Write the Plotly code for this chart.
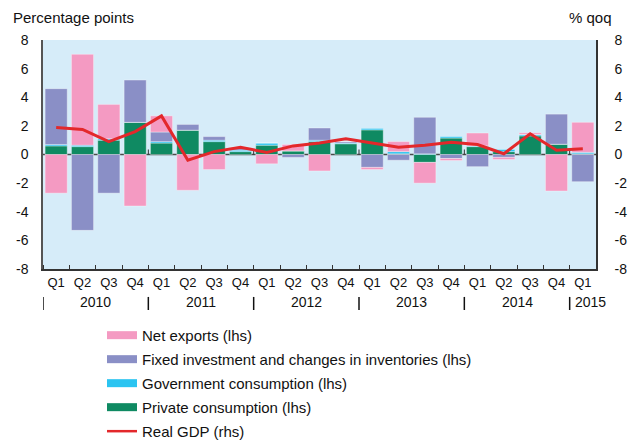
import plotly.graph_objects as go

quarters = ["Q1", "Q2", "Q3", "Q4"] * 5 + ["Q1"]
years = ["2010", "2011", "2012", "2013", "2014", "2015"]

private_consumption = [0.6, 0.55, 1.0, 2.25, 0.8, 1.7, 0.9, 0.2, 0.65, 0.25, 0.9, 0.75,
                       1.72, 0.05, -0.55, 1.15, 0.55, 0.2, 1.3, 0.72, 0.05]
government_consumption = [0.1, 0.1, 0.1, 0.0, 0.1, 0.0, 0.1, 0.1, 0.15, 0.0, 0.1, 0.05,
                          0.1, 0.15, 0.05, 0.1, 0.05, 0.15, 0.1, 0.0, 0.1]
fixed_investment = [3.9, -5.3, -2.7, 2.95, 0.67, 0.4, 0.25, 0.2, 0.0, -0.2, 0.85, 0.1,
                    -0.9, -0.4, 2.55, -0.28, -0.85, -0.2, 0.0, 2.1, -1.9]
net_exports = [-2.7, 6.35, 2.4, -3.6, 1.13, -2.5, -1.05, 0.0, -0.65, 0.45, -1.15, 0.0,
               -0.15, 0.7, -1.45, -0.14, 0.9, -0.15, 0.12, -2.55, 2.1]
real_gdp = [1.88, 1.75, 0.9, 1.6, 2.7, -0.4, 0.2, 0.5, 0.15, 0.6, 0.8, 1.1,
            0.8, 0.5, 0.65, 0.85, 0.7, 0.05, 1.45, 0.3, 0.4]

y_ticks = [-8, -6, -4, -2, 0, 2, 4, 6, 8]
y_ticktext = [str(v) for v in y_ticks]

C_PINK = "#F49AC2"
C_PURPLE = "#8A8FC6"
C_CYAN = "#2BC4F1"
C_GREEN = "#0F8A62"
C_RED = "#E3282B"
BG = "#D6ECF9"
FONT = "Liberation Sans"

x = list(range(len(quarters)))

fig = go.Figure()
bar_series = [
    ("Private consumption (lhs)", private_consumption, C_GREEN, 4),
    ("Government consumption (lhs)", government_consumption, C_CYAN, 3),
    ("Fixed investment and changes in inventories (lhs)", fixed_investment, C_PURPLE, 2),
    ("Net exports (lhs)", net_exports, C_PINK, 1),
]
for name, vals, col, rank in bar_series:
    fig.add_trace(go.Bar(x=x, y=vals, name=name,
                         marker=dict(color=col, line=dict(color="rgba(255,255,255,0.35)", width=1)),
                         showlegend=False, yaxis="y"))
fig.add_trace(go.Scatter(x=x, y=real_gdp, name="Real GDP (rhs)", mode="lines",
                         line=dict(color=C_RED, width=3), yaxis="y2", showlegend=False))

# legend entries
for name, vals, col, rank in bar_series:
    fig.add_trace(go.Scatter(x=[None], y=[None], mode="lines", name=name, legendrank=rank,
                             legendgroup=name, line=dict(color=col, width=8), yaxis="y"))
fig.add_trace(go.Scatter(x=[None], y=[None], mode="lines", name="Real GDP (rhs)", legendrank=5,
                         legendgroup="gdp", line=dict(color=C_RED, width=2.5), yaxis="y"))

shapes = []
shapes.append(dict(type="line", xref="paper", yref="y", x0=0, x1=1, y0=0, y1=0,
                   line=dict(color="#4a4a4a", width=1.5), layer="below"))
for b in [3.5, 7.5, 11.5, 15.5, 19.5]:
    shapes.append(dict(type="line", xref="x", yref="y", x0=b, x1=b, y0=0, y1=0.35,
                       line=dict(color="#333", width=1), layer="below"))
for b in [-0.5, 3.5, 7.5, 11.5, 15.5, 19.5]:
    shapes.append(dict(type="line", xref="x", yref="paper", x0=b, x1=b, y0=-0.122, y1=-0.179,
                       line=dict(color="#111", width=1.5)))

annotations = []
for i, yr in enumerate(years[:-1]):
    annotations.append(dict(x=1.5 + 4 * i, y=-0.143, xref="x", yref="paper", text=yr, showarrow=False,
                            font=dict(family=FONT, size=14, color="#111"), xanchor="center", yanchor="middle"))
annotations.append(dict(x=19.5, y=-0.143, xref="x", yref="paper", text=years[-1], showarrow=False, xshift=3,
                        font=dict(family=FONT, size=14, color="#111"), xanchor="left", yanchor="middle"))
annotations.append(dict(x=0, y=1, xref="paper", yref="paper", text="Percentage points", showarrow=False,
                        font=dict(family=FONT, size=15, color="#111"), xanchor="left", yanchor="middle",
                        xshift=-32, yshift=23))
annotations.append(dict(x=1, y=1, xref="paper", yref="paper", text="% qoq", showarrow=False,
                        font=dict(family=FONT, size=15, color="#111"), xanchor="right", yanchor="middle",
                        xshift=18, yshift=23))

fig.update_layout(
    width=629, height=441,
    margin=dict(l=43, r=33, t=40, b=172, autoexpand=False),
    paper_bgcolor="white", plot_bgcolor=BG,
    barmode="relative", bargap=0.16,
    font=dict(family=FONT, size=14, color="#111"),
    xaxis=dict(range=[-0.5, 20.5], tickvals=x, ticktext=quarters, ticks="", showgrid=False,
               zeroline=False, showline=True, linecolor="#333", linewidth=1.5,
               tickfont=dict(size=13), ticklabelstandoff=1,
               minor=dict(tick0=-0.5, dtick=1, ticks="inside", ticklen=4, tickcolor="#333", showgrid=False)),
    yaxis=dict(range=[-8, 8], tickvals=y_ticks, ticktext=y_ticktext, showgrid=False, zeroline=False,
               showline=True, linecolor="#555", linewidth=1.5, ticks="outside", ticklen=10,
               tickcolor="rgba(0,0,0,0)", tickfont=dict(size=14)),
    yaxis2=dict(range=[-8, 8], tickvals=y_ticks, ticktext=y_ticktext, overlaying="y", side="right",
                showgrid=False, zeroline=False, showline=True, linecolor="#333", linewidth=1.5,
                ticks="outside", ticklen=14, tickcolor="rgba(0,0,0,0)", tickfont=dict(size=14)),
    legend=dict(x=0.1067, y=-0.218, xanchor="left", yanchor="top", orientation="v",
                font=dict(family=FONT, size=15, color="#111"), tracegroupgap=1.5, bgcolor="rgba(0,0,0,0)",
                itemwidth=30),
    shapes=shapes, annotations=annotations,
)

# remove the page's default body margin so the 629x441 figure fills the window exactly
fig.write_html("out.html", config={"displayModeBar": False},
               post_script="document.body.style.margin='0';document.body.style.overflow='hidden';")
